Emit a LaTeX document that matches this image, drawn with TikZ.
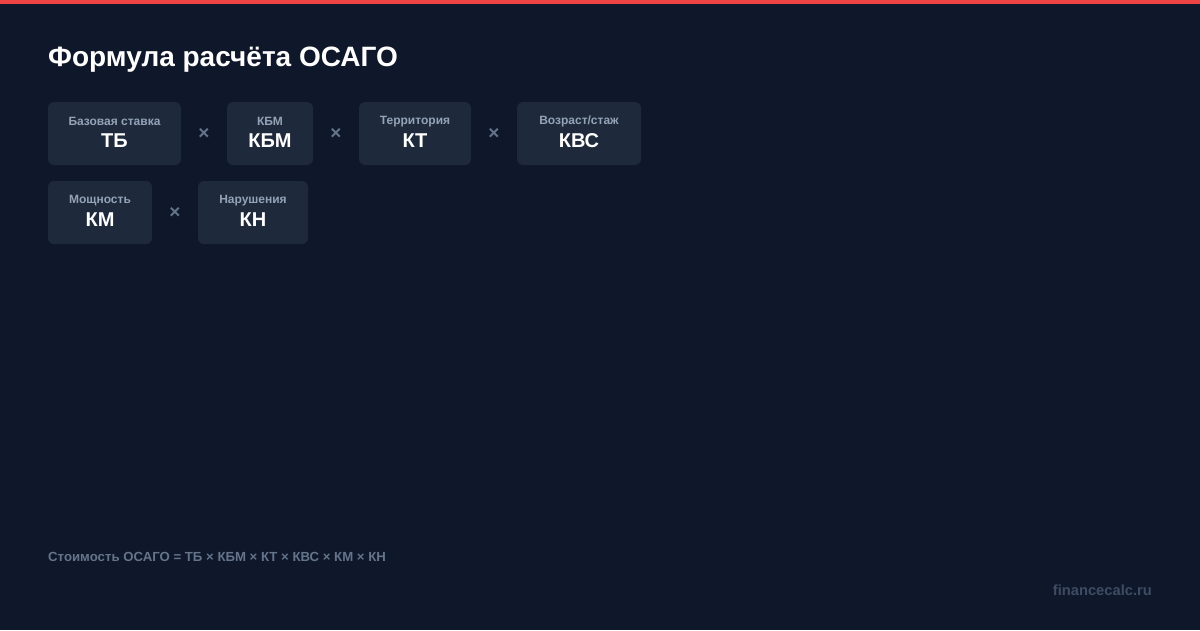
\documentclass[tikz,border=0pt]{standalone}
\usepackage{fontspec}
\setmainfont{Liberation Sans}
\usetikzlibrary{positioning,calc}

\definecolor{bgnavy}{HTML}{0F172A}
\definecolor{cardfill}{HTML}{1E293B}
\definecolor{topred}{HTML}{EF4444}
\definecolor{labelgray}{HTML}{94A3B8}
\definecolor{signgray}{HTML}{64748B}
\definecolor{sitegray}{HTML}{3E4C63}

\tikzset{
    card/.style={rectangle, rounded corners=6pt, fill=cardfill, draw=none, minimum height=63pt, inner sep=0pt},
    cardlabel/.style={text=labelgray, font=\bfseries\fontsize{12}{14}\selectfont, inner sep=0pt},
    cardvalue/.style={text=white, font=\bfseries\fontsize{20}{24}\selectfont, inner sep=0pt},
    timessign/.style={text=signgray, font=\bfseries\fontsize{19}{22}\selectfont, inner sep=0pt},
}
\newcommand{\cardtext}[3]{%
    \node[cardlabel] (#1-label) at ([yshift=12pt]#1.center) {#2};
    \node[cardvalue] (#1-value) at ([yshift=-7pt]#1.center) {#3};
}

\begin{document}
\begin{tikzpicture}[x=1pt,y=-1pt]
        % Background
        \fill[bgnavy] (0,0) rectangle (1200,630);
        \useasboundingbox (0,0) rectangle (1200,630);
        \fill[topred] (0,0) rectangle (1200,4);

        % Title
        \node (title) [anchor=base west, text=white, inner sep=0pt, font=\bfseries\fontsize{28}{32}\selectfont] at (48,66) {Формула расчёта ОСАГО};

        % Cards, first row
        \node (tb) [card, minimum width=133pt] at (114.5,133.5) {};
        \node (kbm) [card, minimum width=86pt] at (270,133.5) {};
        \node (kt) [card, minimum width=112pt] at (415,133.5) {};
        \node (kvs) [card, minimum width=124pt] at (579,133.5) {};

        % Cards, second row
        \node (km) [card, minimum width=104pt] at (100,212.5) {};
        \node (kn) [card, minimum width=110pt] at (253,212.5) {};

        % Texts
        \cardtext{tb}{Базовая ставка}{ТБ}
        \cardtext{kbm}{КБМ}{КБМ}
        \cardtext{kt}{Территория}{КТ}
        \cardtext{kvs}{Возраст/стаж}{КВС}
        \cardtext{km}{Мощность}{КМ}
        \cardtext{kn}{Нарушения}{КН}

        % Signs
        \node (times1) [timessign] at ($(tb.east)!0.5!(kbm.west)$) {×};
        \node (times2) [timessign] at ($(kbm.east)!0.5!(kt.west)$) {×};
        \node (times3) [timessign] at ($(kt.east)!0.5!(kvs.west)$) {×};
        \node (times4) [timessign] at ($(km.east)!0.5!(kn.west)$) {×};

        % Footer
        \node (formula) [anchor=base west, text=signgray, inner sep=0pt, font=\bfseries\fontsize{13.2}{16}\selectfont] at (48,561) {Стоимость ОСАГО = ТБ × КБМ × КТ × КВС × КМ × КН};
        \node (site) [anchor=base east, text=sitegray, inner sep=0pt, font=\bfseries\fontsize{14.7}{17}\selectfont] at (1152,595) {financecalc.ru};
    \end{tikzpicture}
\end{document}
